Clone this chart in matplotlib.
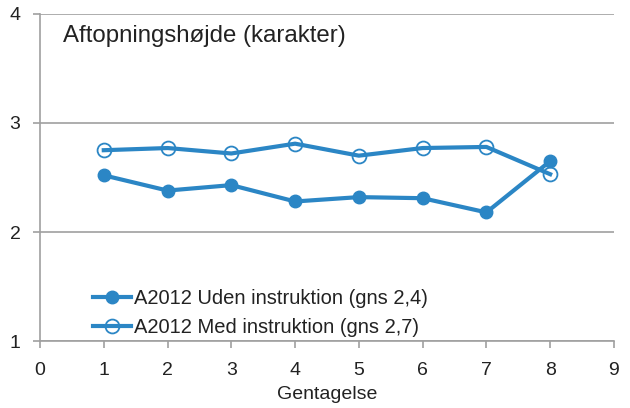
import matplotlib
matplotlib.use("Agg")
import matplotlib.pyplot as plt

plt.rcParams['font.family'] = ['Liberation Sans', 'DejaVu Sans']

# Data
gentagelse = [1, 2, 3, 4, 5, 6, 7, 8]
uden_instruktion = [2.52, 2.38, 2.43, 2.28, 2.32, 2.31, 2.18, 2.65]
med_instruktion = [2.75, 2.77, 2.72, 2.81, 2.70, 2.77, 2.78, 2.53]
x_ticks = list(range(0, 10))
y_ticks = [1, 2, 3, 4]

blue = '#2B86C5'
grey = '#A0A0A0'
txt = '#222222'

fig = plt.figure(figsize=(6.3, 4.08), dpi=100)
ax = fig.add_axes([0.0635, 0.164, 0.911, 0.802])

ax.plot(gentagelse, uden_instruktion, color=blue, lw=3, marker='o', ms=9,
        label='A2012 Uden instruktion (gns 2,4)')
ax.plot(gentagelse, med_instruktion, color=blue, lw=3, marker='o', ms=10,
        markerfacecolor='none', markeredgecolor=blue, markeredgewidth=1.3,
        label='A2012 Med instruktion (gns 2,7)')

ax.set_xlim(0, 9)
ax.set_ylim(1, 4)
ax.set_xticks(x_ticks)
ax.set_yticks(y_ticks)
ax.grid(axis='y', color=grey, lw=1.2)
ax.set_axisbelow(True)

for s in ['top', 'right']:
    ax.spines[s].set_visible(False)
for s in ['left', 'bottom']:
    ax.spines[s].set_color(grey)
    ax.spines[s].set_linewidth(1.2)
ax.tick_params(colors=grey, labelcolor=txt, labelsize=14, length=5, width=1.2)
ax.tick_params(axis='y', pad=9)
ax.tick_params(axis='x', pad=10)

ax.set_xlabel('Gentagelse', fontsize=14, color=txt, labelpad=5)
ax.text(0.04, 0.965, 'Aftopningshøjde (karakter)', transform=ax.transAxes,
        fontsize=17.3, color=txt, va='top', ha='left')

ax.legend(loc='lower left', bbox_to_anchor=(0.061, -0.044), frameon=False,
          fontsize=14.5, handlelength=1.9, handletextpad=0.15, labelspacing=0.5,
          labelcolor=txt)

fig.savefig('out.png', dpi=100)
